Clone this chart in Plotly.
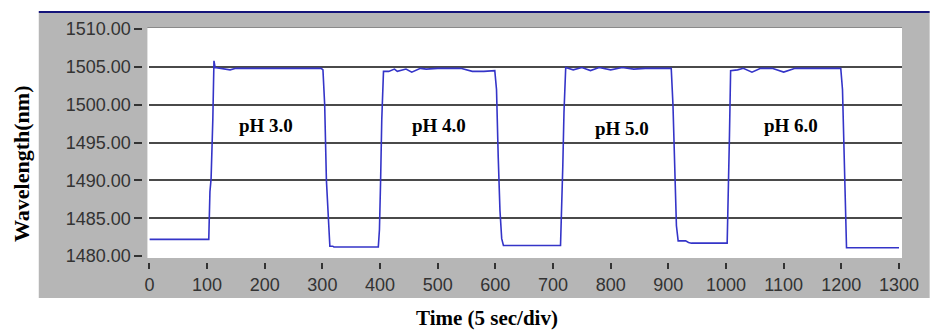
import plotly.graph_objects as go

# ---------------- data ----------------
time = [0, 103, 105, 107, 110, 112, 114, 125, 140, 150, 170, 200, 240, 270, 298,
        301, 304, 307, 310, 313, 318, 320, 397, 399, 401, 403, 406, 415, 425, 430,
        445, 455, 470, 480, 500, 520, 540, 560, 580, 599, 602, 605, 608, 611, 614,
        713, 715, 717, 719, 722, 735, 750, 765, 780, 800, 820, 840, 860, 880, 905,
        908, 911, 914, 917, 930, 935, 940, 1002, 1004, 1006, 1008, 1020, 1030, 1045,
        1060, 1080, 1100, 1120, 1140, 1160, 1180, 1199, 1202, 1205, 1207, 1209, 1300]
wavelength = [1482.2, 1482.2, 1488.5, 1490.2, 1498.0, 1505.8, 1504.9, 1504.8, 1504.6, 1504.8,
              1504.8, 1504.8, 1504.8, 1504.8, 1504.8,
              1504.6, 1500.0, 1490.0, 1486.0, 1481.3, 1481.3, 1481.2, 1481.2, 1483.5, 1490.0,
              1498.0, 1504.4, 1504.4, 1504.7, 1504.4,
              1504.7, 1504.3, 1504.8, 1504.7, 1504.8, 1504.8, 1504.8, 1504.4, 1504.4, 1504.5,
              1502.0, 1493.0, 1486.0, 1482.3, 1481.4,
              1481.4, 1486.0, 1492.0, 1499.0, 1504.9, 1504.6, 1504.9, 1504.5, 1504.9, 1504.6,
              1504.9, 1504.7, 1504.8, 1504.8, 1504.8,
              1500.0, 1490.0, 1484.0, 1482.0, 1482.0, 1481.8, 1481.7, 1481.7, 1487.5, 1496.0,
              1504.5, 1504.6, 1504.8, 1504.3,
              1504.8, 1504.8, 1504.3, 1504.8, 1504.8, 1504.8, 1504.8, 1504.8, 1502.0, 1493.0,
              1487.0, 1481.1, 1481.1]

ph_labels = ["pH 3.0", "pH 4.0", "pH 5.0", "pH 6.0"]
ph_x = [202, 502, 819, 1113]
ph_y = [1497.3, 1497.3, 1496.8, 1497.3]

y_ticks = [1480, 1485, 1490, 1495, 1500, 1505, 1510]
grid_vals = [1485, 1490, 1495, 1500, 1505]
x_ticks = [0, 100, 200, 300, 400, 500, 600, 700, 800, 900, 1000, 1100, 1200, 1300]

# ---------------- layout geometry (pixels) ----------------
W, H = 931, 332
ML, MR, MT, MB = 100, 19, 28, 40
PW = W - ML - MR
PH = H - MT - MB


def px(x):
    return (x - ML) / PW


def py(y):
    return (H - MB - y) / PH


fig = go.Figure()
fig.add_trace(go.Scatter(x=time, y=wavelength, mode="lines",
                         line=dict(color="#3434c8", width=1.6),
                         showlegend=False, hoverinfo="skip"))
fig.add_trace(go.Scatter(x=[None], y=[None], yaxis="y2", showlegend=False))

shapes = [
    dict(type="rect", xref="paper", yref="paper", x0=px(38), x1=px(940),
         y0=py(298), y1=py(13), fillcolor="#b6b6b6", line=dict(width=0), layer="below"),
    dict(type="rect", xref="paper", yref="paper", x0=px(148), x1=px(912),
         y0=py(258), y1=py(28), fillcolor="white", line=dict(width=0), layer="below"),
    dict(type="line", xref="paper", yref="paper", x0=px(148), x1=px(912),
         y0=py(27.5), y1=py(27.5), line=dict(color="#8a8a8a", width=1), layer="below"),
    dict(type="line", xref="paper", yref="paper", x0=px(38), x1=px(940),
         y0=py(12), y1=py(12), line=dict(color="#14147a", width=2)),
]

annotations = []
for t, xx, yy in zip(ph_labels, ph_x, ph_y):
    annotations.append(dict(x=xx, y=yy, xref="x", yref="y", text="<b>" + t + "</b>",
                            showarrow=False,
                            font=dict(family="Liberation Serif", size=19, color="black"),
                            xanchor="center", yanchor="middle"))
annotations.append(dict(x=px(20), y=py(164), xref="paper", yref="paper",
                        text="<b>Wavelength(nm)</b>", textangle=-90, showarrow=False,
                        font=dict(family="Liberation Serif", size=22, color="black"),
                        xanchor="center", yanchor="middle"))
annotations.append(dict(x=px(492), y=py(318), xref="paper", yref="paper",
                        text="<b>Time (5 sec/div)</b>", showarrow=False,
                        font=dict(family="Liberation Serif", size=21, color="black"),
                        xanchor="center", yanchor="middle"))

tick_font = dict(family="Liberation Sans", size=18, color="#333333")

fig.update_layout(
    width=W, height=H,
    margin=dict(l=ML, r=MR, t=MT, b=MB, pad=0),
    paper_bgcolor="white", plot_bgcolor="white",
    shapes=shapes, annotations=annotations,
    xaxis=dict(domain=[px(150), 1.0], anchor="free", position=py(262),
               range=[0, 1305.2], tickvals=x_ticks, ticks="outside", ticklen=6,
               tickwidth=1.5, tickcolor="#333333", showgrid=False, zeroline=False,
               showline=False, tickfont=tick_font),
    yaxis=dict(domain=[py(258), 1.0], anchor="free", position=px(143),
               range=[1479.74, 1510.13], tickvals=y_ticks, tickformat=".2f",
               ticks="outside", ticklen=8, tickwidth=1.5, tickcolor="#333333",
               showgrid=False, zeroline=False, showline=False, tickfont=tick_font),
    yaxis2=dict(overlaying="y", anchor="x", side="left", range=[1479.74, 1510.13],
                tickvals=grid_vals, showticklabels=False, ticks="", showgrid=True,
                gridcolor="#4a4a4a", gridwidth=1.6, zeroline=False, showline=False),
)

fig.write_html("out.html", config={"displayModeBar": False},
               post_script="document.body.style.margin='0';document.body.style.overflow='hidden';")
